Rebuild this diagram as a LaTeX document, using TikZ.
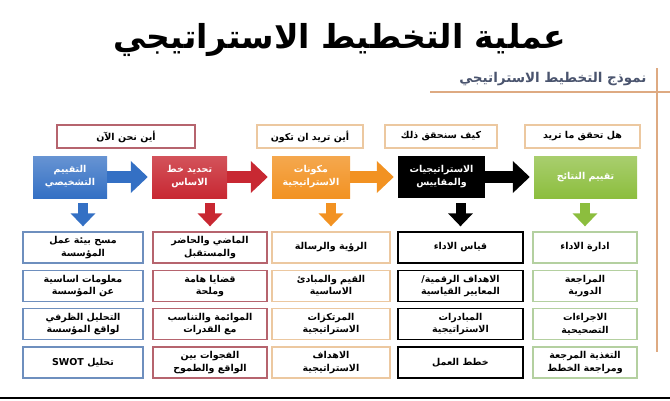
\documentclass[tikz,border=0pt]{standalone}
\usepackage{fontspec}
\usepackage{tikz}
\usetikzlibrary{
    positioning,
    arrows.meta
}
\TeXXeTstate=1
\newfontfamily\arabicfont[Script=Arabic]{DejaVu Sans}
\newcommand{\artxt}[1]{\beginR #1\endR}

\definecolor{DiagBlue}{RGB}{52,112,196}
\definecolor{BaseRed}{RGB}{200,40,50}
\definecolor{CompOrange}{RGB}{242,146,34}
\definecolor{ResGreen}{RGB}{140,190,62}
\definecolor{BlueLine}{RGB}{110,143,190}
\definecolor{RedLine}{RGB}{182,100,110}
\definecolor{TanLine}{RGB}{236,200,160}
\definecolor{GreenLine}{RGB}{180,208,160}
\definecolor{FrameTan}{RGB}{222,170,130}
\definecolor{SubGray}{RGB}{74,84,110}

\begin{document}
\begin{tikzpicture}[
    x=1pt, y=-1pt,
    qbox/.style={rectangle, draw, line width=1.2pt, minimum height=23pt, inner sep=2pt, align=center, fill=white, font=\arabicfont\bfseries\fontsize{9.5}{11}\selectfont},
    mainbox/.style={rectangle, minimum height=42pt, inner sep=2pt, align=center, text=white, font=\arabicfont\bfseries\fontsize{9.5}{13}\selectfont},
    itembox/.style={rectangle, draw, line width=1.3pt, minimum height=31pt, inner sep=1pt, align=center, fill=white, font=\arabicfont\bfseries\fontsize{9.5}{12.5}\selectfont},
    blockarrow/.style={line width=12pt, -{Triangle[length=17pt, width=31pt]}, shorten >=4pt},
    downarrow/.style={line width=10pt, -{Triangle[length=13pt, width=24pt]}, shorten <=5pt, shorten >=5pt},
    frameline/.style={draw=FrameTan, line width=1.5pt}
]
\useasboundingbox (0,0) rectangle (670,400);
\fill[white] (0,0) rectangle (670,400);

% title and frame
\node[font=\arabicfont\bfseries\fontsize{33}{36}\selectfont] (title) at (340,40) {\artxt{عملية التخطيط الاستراتيجي}};
\node[anchor=east, text=SubGray, font=\arabicfont\bfseries\fontsize{13.5}{15}\selectfont] (subtitle) at (650,79) {\artxt{نموذج التخطيط الاستراتيجي}};
\draw[frameline] (430,92) -- (670,92);
\draw[frameline] (657,68) -- (657,352);
\draw[line width=2pt] (0,398) -- (670,398);

% questions
\node[qbox, draw=RedLine, minimum width=138pt] (qnow) at (126,136.5) {\artxt{أين نحن الآن}};
\node[qbox, draw=TanLine, minimum width=106pt] (qwant) at (310,136.5) {\artxt{أين تريد ان تكون}};
\node[qbox, draw=TanLine, minimum width=112pt] (qhow) at (441,136.5) {\artxt{كيف سنحقق ذلك}};
\node[qbox, draw=TanLine, minimum width=115pt] (qdone) at (582.5,136.5) {\artxt{هل تحقق ما تريد}};

% main steps
\node[mainbox, minimum width=74pt, top color=DiagBlue!75!white, bottom color=DiagBlue] (diag) at (70,177) {\artxt{التقييم}\\\artxt{التشخيصي}};
\node[mainbox, minimum width=75pt, top color=BaseRed!80!white, bottom color=BaseRed] (base) at (189.5,177) {\artxt{تحديد خط}\\\artxt{الاساس}};
\node[mainbox, minimum width=78pt, top color=CompOrange!80!white, bottom color=CompOrange] (comp) at (311,177) {\artxt{مكونات}\\\artxt{الاستراتيجية}};
\node[mainbox, minimum width=87pt, fill=black] (strat) at (441.5,177) {\artxt{الاستراتيجيات}\\\artxt{والمقاييس}};
\node[mainbox, minimum width=103pt, top color=ResGreen!75!white, bottom color=ResGreen] (results) at (585.5,177) {\artxt{تقييم النتائج}};

\draw[blockarrow, color=DiagBlue] (diag) -- (base);
\draw[blockarrow, color=BaseRed] (base) -- (comp);
\draw[blockarrow, color=CompOrange] (comp) -- (strat);
\draw[blockarrow, color=black] (strat) -- (results);

% column 1
\node[itembox, draw=BlueLine, minimum width=120pt] (scan) at (83,247.5) {\artxt{مسح بيئة عمل}\\\artxt{المؤسسة}};
\node[itembox, draw=BlueLine, minimum width=120pt, below=6pt of scan] (info) {\artxt{معلومات اساسية}\\\artxt{عن المؤسسة}};
\node[itembox, draw=BlueLine, minimum width=120pt, below=6pt of info] (situ) {\artxt{التحليل الظرفي}\\\artxt{لواقع المؤسسة}};
\node[itembox, draw=BlueLine, minimum width=120pt, below=6pt of situ] (swot) {\beginR تحليل \beginL SWOT\endL\endR};

% column 2
\node[itembox, draw=RedLine, minimum width=114pt] (past) at (210,247.5) {\artxt{الماضي والحاضر}\\\artxt{والمستقبل}};
\node[itembox, draw=RedLine, minimum width=114pt, below=6pt of past] (issues) {\artxt{قضايا هامة}\\\artxt{وملحة}};
\node[itembox, draw=RedLine, minimum width=114pt, below=6pt of issues] (fit) {\artxt{الموائمة والتناسب}\\\artxt{مع القدرات}};
\node[itembox, draw=RedLine, minimum width=114pt, below=6pt of fit] (gaps) {\artxt{الفجوات بين}\\\artxt{الواقع والطموح}};

% column 3
\node[itembox, draw=TanLine, minimum width=118pt] (vision) at (331,247.5) {\artxt{الرؤية والرسالة}};
\node[itembox, draw=TanLine, minimum width=118pt, below=6pt of vision] (values) {\artxt{القيم والمبادئ}\\\artxt{الاساسية}};
\node[itembox, draw=TanLine, minimum width=118pt, below=6pt of values] (pillars) {\artxt{المرتكزات}\\\artxt{الاستراتيجية}};
\node[itembox, draw=TanLine, minimum width=118pt, below=6pt of pillars] (goals) {\artxt{الاهداف}\\\artxt{الاستراتيجية}};

% column 4
\node[itembox, draw=black, minimum width=125pt] (measure) at (460.5,247.5) {\artxt{قياس الاداء}};
\node[itembox, draw=black, minimum width=125pt, below=6pt of measure] (targets) {\artxt{الاهداف الرقمية/}\\\artxt{المعايير القياسية}};
\node[itembox, draw=black, minimum width=125pt, below=6pt of targets] (initiatives) {\artxt{المبادرات}\\\artxt{الاستراتيجية}};
\node[itembox, draw=black, minimum width=125pt, below=6pt of initiatives] (plans) {\artxt{خطط العمل}};

% column 5
\node[itembox, draw=GreenLine, minimum width=104pt] (manage) at (585,247.5) {\artxt{ادارة الاداء}};
\node[itembox, draw=GreenLine, minimum width=104pt, below=6pt of manage] (review) {\artxt{المراجعة}\\\artxt{الدورية}};
\node[itembox, draw=GreenLine, minimum width=104pt, below=6pt of review] (correct) {\artxt{الاجراءات}\\\artxt{التصحيحية}};
\node[itembox, draw=GreenLine, minimum width=104pt, below=6pt of correct] (feedback) {\artxt{التغذية المرجعة}\\\artxt{ومراجعة الخطط}};

% down arrows
\draw[downarrow, color=DiagBlue] (scan.north |- diag.south) -- (scan.north);
\draw[downarrow, color=BaseRed] (past.north |- base.south) -- (past.north);
\draw[downarrow, color=CompOrange] (vision.north |- comp.south) -- (vision.north);
\draw[downarrow, color=black] (measure.north |- strat.south) -- (measure.north);
\draw[downarrow, color=ResGreen] (manage.north |- results.south) -- (manage.north);
\end{tikzpicture}
\end{document}
